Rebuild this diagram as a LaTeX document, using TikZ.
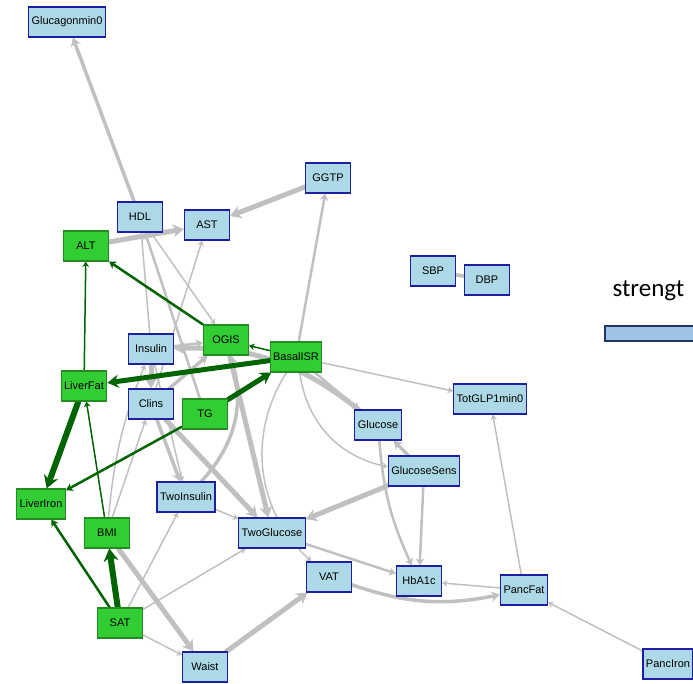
\documentclass[tikz,border=0pt]{standalone}
\usepackage{fontspec}
\setmainfont{Liberation Sans}
\newfontfamily\legendfont{Carlito}
\usetikzlibrary{arrows.meta}
\pgfdeclarelayer{background}
\pgfsetlayers{background,main}
\definecolor{boxblue}{RGB}{173,216,230}
\definecolor{boxblueline}{RGB}{30,30,160}
\definecolor{boxgreen}{RGB}{50,205,50}
\definecolor{boxgreenline}{RGB}{34,139,34}
\definecolor{edgegrey}{RGB}{192,192,192}
\definecolor{edgegreen}{RGB}{0,100,0}
\definecolor{legendfill}{RGB}{157,195,230}
\definecolor{legendline}{RGB}{31,56,100}
\tikzset{
  varbox/.style={draw, line width=1.1pt, minimum width=45pt, minimum height=30pt,
    inner xsep=3pt, font=\fontsize{11}{13}\selectfont},
  bluebox/.style={varbox, fill=boxblue, draw=boxblueline},
  greenbox/.style={varbox, fill=boxgreen, draw=boxgreenline},
  greyedge/.style={draw=edgegrey, line cap=round, -{Stealth[length=3pt 1.6, width=4pt 1.8, inset=1pt 0.5]}},
  greenedge/.style={draw=edgegreen, line cap=round, -{Stealth[length=3pt 1.6, width=4pt 1.8, inset=1pt 0.5]}},
  lwa/.style={line width=1.5pt},
  lwb/.style={line width=2.5pt},
  lwc/.style={line width=3.5pt},
  lwd/.style={line width=5pt},
  lwe/.style={line width=6pt}
}
\begin{document}
\begin{tikzpicture}[x=1pt,y=-1pt]
      \clip (0,0) rectangle (693,684);
      \draw
        (67,22) node[bluebox] (Glucagonmin0){Glucagonmin0}
        (140,217) node[bluebox] (HDL){HDL}
        (207,225) node[bluebox] (AST){AST}
        (328,178) node[bluebox] (GGTP){GGTP}
        (86,246) node[greenbox] (ALT){ALT}
        (433,271) node[bluebox] (SBP){SBP}
        (487,280) node[bluebox] (DBP){DBP}
        (226,340) node[greenbox] (OGIS){OGIS}
        (151,349) node[bluebox] (Insulin){Insulin}
        (296,357) node[greenbox] (BasalISR){BasalISR}
        (84,386) node[greenbox] (LiverFat){LiverFat}
        (151,404) node[bluebox] (Clins){Clins}
        (205,414) node[greenbox] (TG){TG}
        (490,399) node[bluebox] (TotGLP1min0){TotGLP1min0}
        (378,425) node[bluebox] (Glucose){Glucose}
        (424,471) node[bluebox] (GlucoseSens){GlucoseSens}
        (186,497) node[bluebox] (TwoInsulin){TwoInsulin}
        (41,504) node[greenbox] (LiverIron){LiverIron}
        (107,533) node[greenbox] (BMI){BMI}
        (272,533) node[bluebox] (TwoGlucose){TwoGlucose}
        (329,577) node[bluebox] (VAT){VAT}
        (419,581) node[bluebox] (HbA1c){HbA1c}
        (524,590) node[bluebox] (PancFat){PancFat}
        (120,623) node[greenbox] (SAT){SAT}
        (205,667) node[bluebox] (Waist){Waist}
        (668,664) node[bluebox] (PancIron){PancIron};
      % legend
      \node[font=\legendfont\fontsize{25}{28}\selectfont, anchor=base west] (strength) at (609,297) {strengt};
      \draw[line width=2pt, draw=legendline, fill=legendfill] (605,326) rectangle (700,341);
      \begin{pgfonlayer}{background}
      \begin{scope}[greyedge]
        \draw[lwc] (HDL) to (Glucagonmin0);
        \draw[lwd] (ALT) to (AST);
        \draw[lwd] (GGTP) to (AST);
        \draw[lwa] (Insulin) to (HDL);
        \draw[lwb] (TG) to (HDL);
        \draw[lwa] (HDL) to (OGIS);
        \draw[lwa] (Clins) to (AST);
        \draw[lwc] (Clins) to (OGIS);
        \draw[lwb] (Insulin) to (OGIS);
        \draw[lwd] (Glucose) to[bend right=20] (Insulin);
        \draw[lwd] (Insulin) to (Clins);
        \draw[lwa] (Insulin) to (TwoInsulin);
        \draw[lwc] (Clins) to (TwoInsulin);
        \draw[lwd] (Clins) to (TwoGlucose);
        \draw[lwd] (OGIS) to (TwoGlucose);
        \draw[lwc] (TwoInsulin) to[bend right=30] (OGIS);
        \draw[lwa] (TwoInsulin) to (TwoGlucose);
        \draw[lwd] (GlucoseSens) to (TwoGlucose);
        \draw[lwb] (TwoGlucose) to (HbA1c);
        \draw[lwa] (BMI) to[bend left=8] (Insulin);
        \draw[lwa] (BMI) to (Clins);
        \draw[lwd] (BMI) to (Waist);
        \draw[lwa] (SAT) to (TwoInsulin);
        \draw[lwa] (SAT) to (TwoGlucose);
        \draw[lwa] (SAT) to (Waist);
        \draw[lwd] (Waist) to (VAT);
        \draw[lwc] (VAT) to[bend right=15] (PancFat);
        \draw[lwa] (PancFat) to (HbA1c);
        \draw[lwa] (PancFat) to (TotGLP1min0);
        \draw[lwa] (PancIron) to (PancFat);
        \draw[lwb] (Glucose) to[bend right=10] (HbA1c);
        \draw[lwb] (GlucoseSens) to (HbA1c);
        \draw[lwc] (GlucoseSens) to (Glucose);
        \draw[lwb] (BasalISR) to (Glucose);
        \draw[lwa] (BasalISR) to[bend right=35] (GlucoseSens);
        \draw[lwa] (BasalISR) to (TotGLP1min0);
        \draw[lwb] (BasalISR) to (GGTP);
        \draw[lwa] (BasalISR) to[bend right=40] (VAT);
        \draw[-, lwc] (SBP) to (DBP);
      \end{scope}
      \begin{scope}[greenedge]
        \draw[lwa] (LiverFat) to (ALT);
        \draw[lwb] (OGIS) to (ALT);
        \draw[lwa] (BasalISR) to (OGIS);
        \draw[lwd] (BasalISR) to (LiverFat);
        \draw[lwd] (TG) to (BasalISR);
        \draw[lwe] (LiverFat) to (LiverIron);
        \draw[lwb] (TG) to (LiverIron);
        \draw[lwa] (BMI) to (LiverFat);
        \draw[lwb] (SAT) to (LiverIron);
        \draw[lwe] (SAT) to (BMI);
      \end{scope}
      \end{pgfonlayer}
    \end{tikzpicture}
\end{document}
